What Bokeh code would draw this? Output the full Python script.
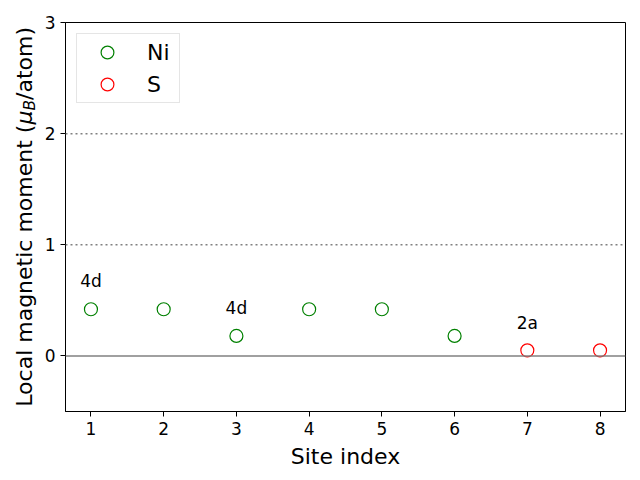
from bokeh.plotting import figure
from bokeh.models import Span, ColumnDataSource, FixedTicker, Range1d, Div
from bokeh.layouts import row
from bokeh.embed import file_html
from bokeh.resources import INLINE
from bokeh.core.properties import value

# data
ni_sites = [1, 2, 3, 4, 5, 6]
ni_moments = [0.42, 0.42, 0.18, 0.42, 0.42, 0.18]
s_sites = [7, 8]
s_moments = [0.05, 0.05]
label_sites = [1, 3, 7]
label_moments = [0.42, 0.18, 0.05]
label_texts = ["4d", "4d", "2a"]
x_ticks = [1, 2, 3, 4, 5, 6, 7, 8]
y_ticks = [0, 1, 2, 3]
ref_levels = [1, 2]
label_offset = 0.25

FONT = "DejaVu Sans"
X0, X1, Y0, Y1 = 0.65, 8.35, -0.5, 3.0
DW = 40
LEFT, RIGHT, TOP, BOTTOM = 25, 15, 22, 69
W, H = 600, 480

p = figure(width=W, height=H, output_backend="svg", toolbar_location=None,
           x_range=Range1d(X0, X1), y_range=Range1d(Y0, Y1),
           min_border_left=LEFT, min_border_right=RIGHT, min_border_top=TOP,
           min_border_bottom=BOTTOM)
p.xgrid.visible = False
p.ygrid.visible = False
p.outline_line_color = "black"
p.outline_line_width = 1

for lvl in ref_levels:
    p.add_layout(Span(location=lvl, dimension="width", line_color="gray",
                      line_dash="2 3", line_width=1.5))
p.add_layout(Span(location=0, dimension="width", line_color="gray", line_width=1.5))

p.scatter(ni_sites, ni_moments, size=13, fill_color=None, line_color="green",
          line_width=1.2, legend_label="Ni")
p.scatter(s_sites, s_moments, size=13, fill_color=None, line_color="red",
          line_width=1.2, legend_label="S")

src = ColumnDataSource(dict(x=label_sites, y=[m + label_offset for m in label_moments], t=label_texts))
p.text(x="x", y="y", text="t", source=src, text_align="center", text_baseline="middle",
       text_font_size="17px", text_font=value(FONT), text_color="black")

for ax in (p.xaxis[0], p.yaxis[0]):
    ax.major_label_text_font = FONT
    ax.major_label_text_font_size = "17px"
    ax.major_label_text_color = "black"
    ax.axis_label_text_font = FONT
    ax.axis_label_text_font_size = "22px"
    ax.axis_label_text_font_style = "normal"
    ax.axis_label_text_color = "black"
    ax.axis_line_color = "black"
    ax.major_tick_line_color = "black"
    ax.major_tick_out = 5
    ax.major_tick_in = 0
    ax.minor_tick_line_color = None

p.xaxis[0].ticker = FixedTicker(ticks=x_ticks)
p.yaxis[0].ticker = FixedTicker(ticks=y_ticks)
p.xaxis[0].axis_label = "Site index"
p.xaxis[0].axis_label_standoff = 6

frame_h = H - TOP - BOTTOM
ylabel_html = (
    f'<div style="position:absolute; left:0; top:{TOP}px; width:{DW}px; height:{frame_h}px; '
    'display:flex; align-items:center; justify-content:flex-start; padding-left:14px; box-sizing:border-box;">'
    '<span style="writing-mode:vertical-rl; transform:rotate(180deg); font-family:\'DejaVu Sans\'; '
    'font-size:22px; line-height:22px; color:black; white-space:nowrap;">'
    'Local magnetic moment (<i>\u03bc</i><sub style="font-size:70%; line-height:0;"><i>B</i></sub>/atom)'
    '</span></div>'
)
ylabel = Div(text=ylabel_html, width=DW, height=H, margin=0)

lg = p.legend[0]
lg.location = "top_left"
lg.margin = 11
lg.padding = 2
lg.spacing = 0
lg.glyph_width = 56
lg.glyph_height = 32
lg.label_height = 32
lg.label_width = 30
lg.label_standoff = 12
lg.label_text_font = FONT
lg.label_text_font_size = "22px"
lg.label_text_color = "black"
lg.border_line_color = "#cccccc"
lg.border_line_width = 1
lg.background_fill_alpha = 0.8

layout = row(ylabel, p, spacing=0)
open("out.html", "w").write(file_html(layout, INLINE))
